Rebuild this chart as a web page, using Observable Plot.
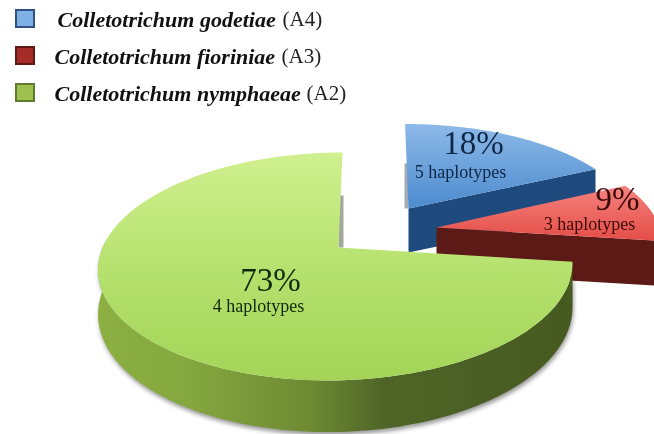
<!DOCTYPE html>
<html><head><meta charset="utf-8">
<script src="https://cdn.jsdelivr.net/npm/d3@7"></script>
<script src="https://cdn.jsdelivr.net/npm/@observablehq/plot@0.6"></script>
<style>html,body{margin:0;padding:0;background:#fff}svg{display:block;filter:blur(.45px)}</style>
</head><body><div id="chart"></div>
<script>
const species = ["Colletotrichum godetiae", "Colletotrichum fioriniae", "Colletotrichum nymphaeae"];
const clades = ["(A4)", "(A3)", "(A2)"];
const shares = [18, 9, 73];
const haplotypes = [5, 3, 4];

// pie layout
const W = 654, H = 434;
const apexes = [[408, 208], [436, 227], [338, 247]];
const radiiX = [0.95, 0.95, 0.995];
const radiiY = [0.89, 0.95, 1];
const arcShift = [0, 0, -2];
const skews = [-4, 0, 7];
const depths = [44, 45, 43];
const RX = 235, RY = 110.8, K = 1 / 6;

const arcs = d3.pie().sort(null).startAngle(0).endAngle(2 * Math.PI)(shares);
const project = (i, t, drop = 0) => {
  const w = 1 + K * Math.cos(t);
  return {
    x: apexes[i][0] + arcShift[i] + (radiiX[i] * RX * Math.sin(t) + skews[i] * Math.cos(t)) / w,
    y: apexes[i][1] - radiiY[i] * RY * Math.cos(t) / w + drop / w
  };
};
const arcAngles = i => {
  const {startAngle: a, endAngle: b} = arcs[i];
  return d3.range(0, 121).map(k => a + (b - a) * k / 120);
};
const arcPts = (i, drop = 0) => arcAngles(i).map(t => project(i, t, drop));
const apexOf = i => ({x: apexes[i][0], y: apexes[i][1]});
const topFace = i => [apexOf(i), ...arcPts(i)];
// the rim is only drawn on the near half of the disc
const rimFace = i => {
  const near = arcAngles(i).filter(t => Math.cos(t) < 0.1);
  return [...near.map(t => project(i, t)), ...near.map(t => project(i, t, depths[i])).reverse()];
};
const wall = i => {
  const t = project(i, arcs[i].endAngle), a = apexOf(i);
  return [a, t, {x: t.x, y: t.y + depths[i]}, {x: a.x, y: a.y + depths[i]}];
};
// thin grey sliver of the far wall beside the vertical cut edge
const sliver = (i, side, rise) => {
  const a = apexOf(i);
  return [a, {x: a.x + side, y: a.y}, {x: a.x + side, y: a.y - rise}, {x: a.x, y: a.y - rise}];
};

const gradient = (id, stops, horizontal) =>
  `<linearGradient id="${id}" x1="0" y1="0" x2="${horizontal ? 1 : 0}" y2="${horizontal ? 0 : 1}">` +
  stops.map(([o, c]) => `<stop offset="${o}" stop-color="${c}"/>`).join("") + `</linearGradient>`;

const defs = () => {
  const g = document.createElementNS("http://www.w3.org/2000/svg", "g");
  g.innerHTML = "<defs>" +
    gradient("gTop", [[0, "#d0f08f"], [0.55, "#b4e06c"], [1, "#a3d457"]]) +
    gradient("gRim", [[0, "#8cb042"], [0.2, "#84a63f"], [0.45, "#6d8a32"], [0.6, "#4f6527"], [1, "#465a20"]], true) +
    gradient("bTop", [[0, "#8db9e8"], [1, "#4c8bce"]]) +
    gradient("rTop", [[0, "#f5837f"], [1, "#e54d47"]]) +
    "</defs>";
  return g;
};

const poly = (data, fill, extra = {}) => Plot.line(data, {x: "x", y: "y", fill, stroke: "none", ...extra});

const legendY = [19, 56, 93];
const legendX = [57, 54, 54];
const labelX = [282, 281, 306];
const swatches = ["#7fb1e6", "#a62c2a", "#9ec04f"];
const swatchEdges = ["#2f527f", "#5c1a17", "#5f7a2c"];
const legend = species.map((s, i) => ({s, c: clades[i], y: legendY[i], x: legendX[i], x2: labelX[i],
  fill: swatches[i], edge: swatchEdges[i]}));

const pctX = [473, 617, 270], pctY = [143, 199, 280];
const hapX = [460, 589, 258], hapY = [172, 224, 306];
const inks = ["#0f2747", "#3a0a08", "#12280a"];
const labels = shares.map((v, i) => ({pct: `${v}%`, hap: `${haplotypes[i]} haplotypes`,
  px: pctX[i], py: pctY[i], hx: hapX[i], hy: hapY[i], ink: inks[i]}));

const chart = Plot.plot({
  width: W, height: H, margin: 0,
  x: {domain: [0, W], range: [0, W], axis: null},
  y: {domain: [0, H], range: [0, H], axis: null},
  style: {background: "#fff"},
  marks: [
    defs,
    poly(sliver(0, -4, 45), "#a4abb3"),
    poly(wall(0), "#1f4a7d"),
    poly(topFace(0), "url(#bTop)"),
    poly(rimFace(1), "#5b1a15"),
    poly(wall(1), "#5b1a15"),
    poly(topFace(1), "url(#rTop)"),
    poly(sliver(2, 5, 52), "#a3a89c"),
    poly(rimFace(2), "url(#gRim)", {imageFilter: "drop-shadow(1px 3px 2px #0006)"}),
    poly(topFace(2), "url(#gTop)"),
    Plot.rect(legend, {
      x1: d => 16, x2: d => 34,
      y1: d => d.y - 9, y2: d => d.y + 8,
      fill: "fill", stroke: "edge", strokeWidth: 2
    }),
    Plot.text(legend, {x: "x", y: "y", text: "s", textAnchor: "start", fontFamily: "Liberation Serif",
      fontSize: 22, fontWeight: "bold", fontStyle: "italic", fill: "#111"}),
    Plot.text(legend, {x: "x2", y: "y", text: "c", textAnchor: "start", fontFamily: "Liberation Serif",
      fontSize: 21, fill: "#222"}),
    Plot.text(labels, {x: "px", y: "py", text: "pct", fontFamily: "Liberation Serif", fontSize: 33, fill: "ink"}),
    Plot.text(labels, {x: "hx", y: "hy", text: "hap", fontFamily: "Liberation Serif", fontSize: 18, fill: "ink"})
  ]
});
document.getElementById("chart").append(chart);
</script></body></html>
